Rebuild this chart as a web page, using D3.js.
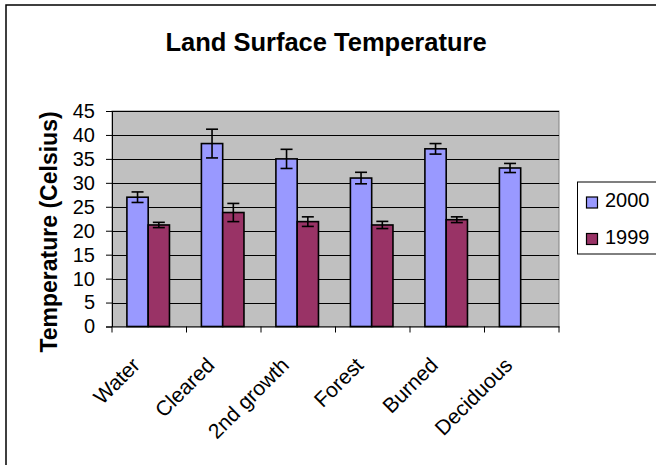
<!DOCTYPE html>
<html>
<head>
<meta charset="utf-8">
<script src="https://cdn.jsdelivr.net/npm/d3@7"></script>
<style>
body { margin: 0; background: #fff; }
svg { font-family: "Liberation Sans", Arial, sans-serif; display: block; }
</style>
</head>
<body>
<div id="chart"></div>
<script>
var categories = ["Water", "Cleared", "2nd growth", "Forest", "Burned", "Deciduous"];
var seriesNames = ["2000", "1999"];
var values2000 = [27.0, 38.2, 35.0, 31.0, 37.1, 33.1];
var errors2000 = [1.1, 3.0, 2.0, 1.2, 1.1, 0.95];
var values1999 = [21.2, 23.8, 21.9, 21.2, 22.3, null];
var errors1999 = [0.55, 1.9, 1.0, 0.75, 0.6, null];
var yTicks = [0, 5, 10, 15, 20, 25, 30, 35, 40, 45];
var colors = ["#9999ff", "#993366"];

function draw_chart() {
    var W = 656, H = 465;
    var margin = { top: 111, left: 112 };
    var width = 559 - margin.left, height = 326.5 - margin.top;
    var ff = "Liberation Sans, Arial, sans-serif";

    var svg = d3.select("#chart").append("svg")
        .attr("width", W)
        .attr("height", H);

    // outer border (chart area runs past the picture)
    svg.append("rect")
        .attr("x", 6).attr("y", 5)
        .attr("width", 720).attr("height", 520)
        .attr("fill", "none").attr("stroke", "#000").attr("stroke-width", 1.5);

    svg.append("text")
        .attr("x", 326).attr("y", 51)
        .attr("text-anchor", "middle")
        .attr("font-size", "25.5px").attr("font-weight", "bold")
        .text("Land Surface Temperature");

    var g = svg.append("g")
        .attr("transform", "translate(" + margin.left + "," + margin.top + ")");

    var x0 = d3.scaleBand().domain(categories).range([0, width]).paddingInner(0).paddingOuter(0);
    var y = d3.scaleLinear().domain([0, 45]).range([height, 0]);
    var bw = x0.bandwidth() / 3.5;

    g.append("rect")
        .attr("width", width).attr("height", height)
        .attr("fill", "#c0c0c0").attr("stroke", "#808080").attr("stroke-width", 1);

    // gridlines
    g.selectAll(".grid").data(yTicks.slice(1)).enter().append("line")
        .attr("x1", 0).attr("x2", width)
        .attr("y1", function (d) { return Math.round(y(d)) + 0.5; })
        .attr("y2", function (d) { return Math.round(y(d)) + 0.5; })
        .attr("stroke", "#000").attr("stroke-width", 1);

    // y axis
    var yAxis = g.append("g")
        .call(d3.axisLeft(y).tickValues(yTicks).tickSize(6).tickPadding(11));
    yAxis.select(".domain").attr("stroke", "#000");
    yAxis.selectAll("text").attr("font-size", "20px").attr("fill", "#000")
        .attr("font-family", ff);

    // x axis
    var xAxis = g.append("g")
        .attr("transform", "translate(0," + height + ")")
        .call(d3.axisBottom(x0).tickSize(0).tickFormat(""));
    xAxis.select(".domain").attr("stroke", "#000");
    xAxis.selectAll(".bd").data(d3.range(categories.length + 1)).enter().append("line")
        .attr("x1", function (i) { return i * x0.bandwidth(); })
        .attr("x2", function (i) { return i * x0.bandwidth(); })
        .attr("y1", 0).attr("y2", 6)
        .attr("stroke", "#000");

    xAxis.selectAll(".lbl").data(categories).enter().append("text")
        .attr("transform", function (d) {
            return "translate(" + (x0(d) + x0.bandwidth() / 2 - 8) + ",40) rotate(-45)";
        })
        .attr("text-anchor", "end")
        .attr("font-size", "21px")
        .attr("font-family", ff)
        .attr("fill", "#000")
        .text(function (d) { return d; });

    var series = [
        { vals: values2000, errs: errors2000 },
        { vals: values1999, errs: errors1999 }
    ];

    series.forEach(function (s, si) {
        var data = categories.map(function (c, i) {
            return { cat: c, v: s.vals[i], e: s.errs[i] };
        }).filter(function (d) { return d.v != null; });

        g.selectAll(".bar" + si).data(data).enter().append("rect")
            .attr("x", function (d) { return x0(d.cat) + bw * 0.7 + si * bw; })
            .attr("y", function (d) { return y(d.v); })
            .attr("width", bw)
            .attr("height", function (d) { return height - y(d.v); })
            .attr("fill", colors[si])
            .attr("stroke", "#000").attr("stroke-width", 1.6);

        var cx = function (d) { return x0(d.cat) + bw * 1.2 + si * bw; };
        var eg = g.selectAll(".err" + si).data(data).enter().append("g")
            .attr("stroke", "#000").attr("stroke-width", 1.6);
        eg.append("line")
            .attr("x1", cx).attr("x2", cx)
            .attr("y1", function (d) { return y(d.v + d.e); })
            .attr("y2", function (d) { return y(d.v - d.e); });
        [1, -1].forEach(function (sgn) {
            eg.append("line")
                .attr("x1", function (d) { return cx(d) - 6; })
                .attr("x2", function (d) { return cx(d) + 6; })
                .attr("y1", function (d) { return y(d.v + sgn * d.e); })
                .attr("y2", function (d) { return y(d.v + sgn * d.e); });
        });
    });

    // y axis title
    svg.append("text")
        .attr("transform", "translate(57," + 232 + ") rotate(-90)")
        .attr("text-anchor", "middle")
        .attr("font-size", "23px").attr("font-weight", "bold")
        .text("Temperature (Celsius)");

    // legend
    var lg = svg.append("g").attr("transform", "translate(577.5,182)");
    lg.append("rect")
        .attr("width", 100).attr("height", 72)
        .attr("fill", "#fff").attr("stroke", "#000").attr("stroke-width", 1);
    seriesNames.forEach(function (n, i) {
        lg.append("rect")
            .attr("x", 9).attr("y", 15 + i * 36.5)
            .attr("width", 11).attr("height", 11)
            .attr("fill", colors[i]).attr("stroke", "#000").attr("stroke-width", 1.2);
        lg.append("text")
            .attr("x", 27.5).attr("y", 25 + i * 37)
            .attr("font-size", "20px")
            .text(n);
    });
}

draw_chart();
</script>
</body>
</html>
